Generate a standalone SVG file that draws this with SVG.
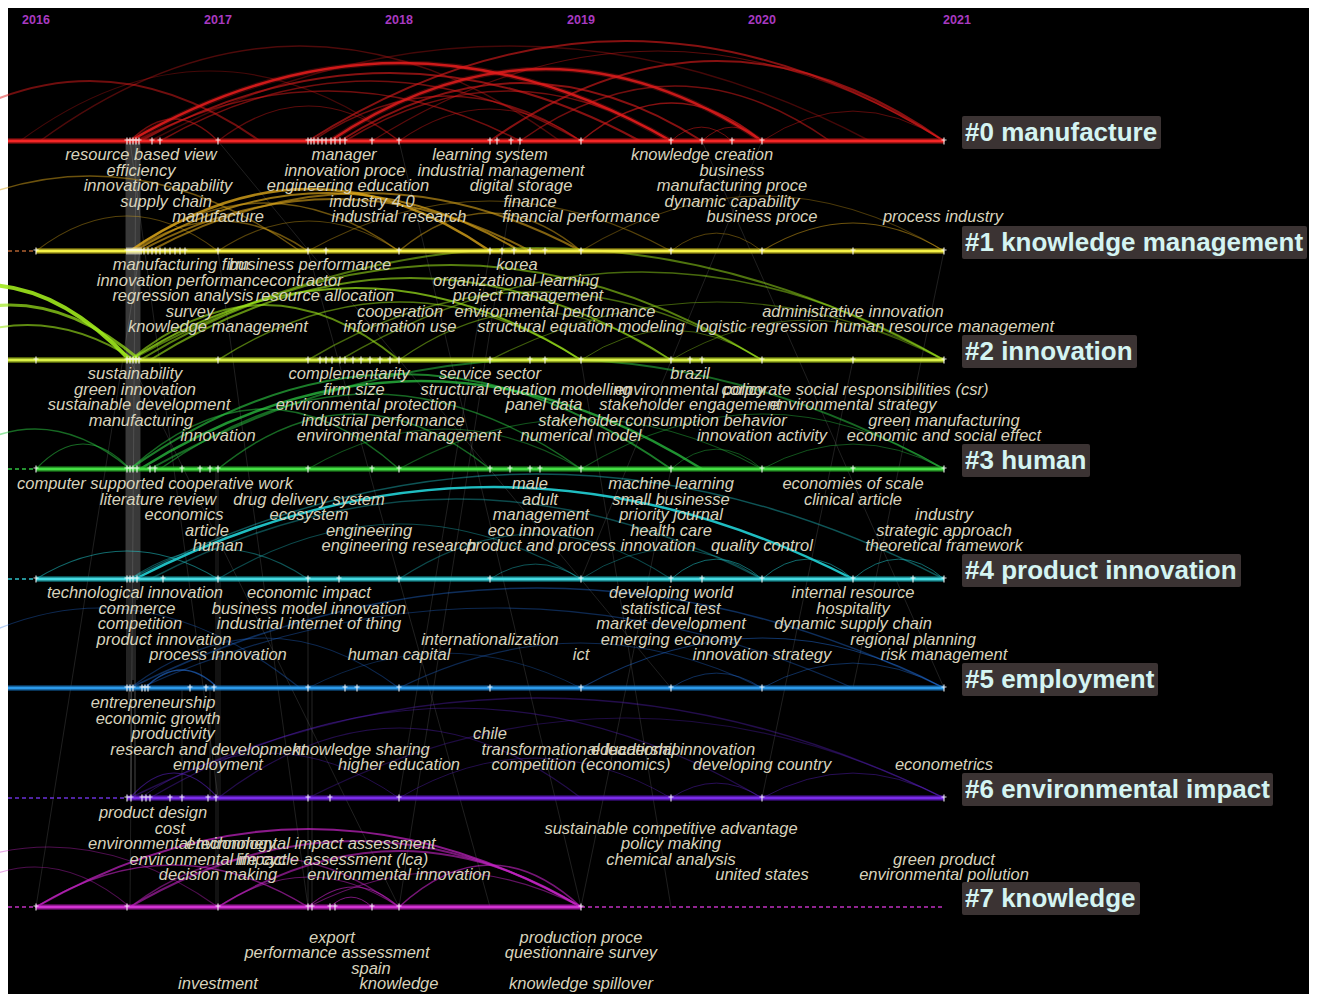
<svg xmlns="http://www.w3.org/2000/svg" xmlns:xlink="http://www.w3.org/1999/xlink" width="1317" height="994" viewBox="0 0 1317 994">
<style>
.yr{font-family:"Liberation Sans",Arial,sans-serif;font-weight:bold;font-size:12.5px;fill:#a83ac0;text-anchor:middle}
.kw{font-family:"Liberation Sans",Arial,sans-serif;font-style:italic;font-size:16.5px;fill:#d8d3bc;text-anchor:middle}
.lb{font-family:"Liberation Sans",Arial,sans-serif;font-weight:bold;font-size:26px;fill:#d4f4f2}
.box{fill:#3b3333}
.arc{fill:none;stroke-linecap:round}
.a0{stroke:#e01c1c}.a1{stroke:#d8a41a}.a2{stroke:#9ee81c}.a3{stroke:#2ed046}.a4{stroke:#22d2d6}.a5{stroke:#2474e4}.a6{stroke:#6424d8}.a7{stroke:#c424c4}
.gl{stroke:#ffffff;fill:none;stroke-width:1}
.tk{stroke:#ffffff;stroke-width:1.2;fill:none;opacity:.85}
.dash{stroke-dasharray:4 3;stroke-width:1.3;fill:none}
</style>
<defs>
<path id="tk" d="M0 -3.5V3.5M-2.5 -1H2.5" class="tk"/>
</defs>
<rect x="0" y="0" width="1317" height="994" fill="#ffffff"/>
<rect x="8" y="8" width="1301" height="986" fill="#000000"/>
<g id="years">
<text class="yr" x="36" y="24">2016</text>
<text class="yr" x="218" y="24">2017</text>
<text class="yr" x="399" y="24">2018</text>
<text class="yr" x="581" y="24">2019</text>
<text class="yr" x="762" y="24">2020</text>
<text class="yr" x="957" y="24">2021</text>
</g>
<g id="connectors">
<g id="crosslinks">
<rect x="125" y="141" width="16" height="440" fill="#ffffff" opacity="0.10"/>
<path class="gl" opacity="0.28" d="M127 141V690M129 141V700M131 141V798M133 141V680M135 141V800M137 141V600M139 141V590"/>
<path class="gl" opacity="0.14" d="M216 469V907M218 469V907M220 580V800M308 579V907M312 688V907M210 690V800M182 690V800"/>
<path class="gl" opacity="0.12" d="M130 141L218 798M136 141L130 907M218 251L308 907M399 141L581 907M581 360L671 907M702 141L944 688M490 251L399 798M762 141L581 579M140 251L36 907M520 141L399 907M308 251L490 907M671 469L581 907M853 360L762 798M944 251L853 688M130 360L399 907M218 141L671 688"/>
</g>
<g id="arcs0" class="arc a0">
<path stroke-width="2" opacity="0.5" d="M-80 141Q90 21 260 141"/>
<path stroke-width="5" opacity="0.25" d="M130 141Q400.5 -15 671 141"/>
<path stroke-width="2.5" opacity="0.9" d="M130 141Q400.5 -15 671 141"/>
<path stroke-width="2" opacity="0.6" d="M140 141Q390 5 640 141"/>
<path stroke-width="1.5" opacity="0.5" d="M136 141Q328 41 520 141"/>
<path stroke-width="2" opacity="0.6" d="M308 141Q626 -59 944 141"/>
<path stroke-width="5" opacity="0.25" d="M330 141Q546 -3 762 141"/>
<path stroke-width="2.5" opacity="0.85" d="M330 141Q546 -3 762 141"/>
<path stroke-width="2" opacity="0.6" d="M340 141Q521 25 702 141"/>
<path stroke-width="1.5" opacity="0.5" d="M312 141Q446.5 51 581 141"/>
<path stroke-width="2" opacity="0.6" d="M490 141Q717 -19 944 141"/>
<path stroke-width="1.5" opacity="0.5" d="M520 141Q675 31 830 141"/>
<path stroke-width="1.5" opacity="0.6" d="M581 141Q671.5 65 762 141"/>
<path stroke-width="1.2" opacity="0.5" d="M130 141Q174 97 218 141"/>
<path stroke-width="1.2" opacity="0.4" d="M218 141Q308.5 71 399 141"/>
<path stroke-width="1.2" opacity="0.4" d="M399 141Q490 77 581 141"/>
<path stroke-width="1" opacity="0.5" d="M671 141Q701.5 113 732 141"/>
<path stroke-width="1" opacity="0.5" d="M702 141Q732 113 762 141"/>
<path stroke-width="1" opacity="0.4" d="M762 141Q853 81 944 141"/>
<path stroke-width="1.5" opacity="0.35" d="M40 141Q300 -49 560 141"/>
<path stroke-width="1.5" opacity="0.3" d="M150 141Q510 -49 870 141"/>
<path stroke-width="1.5" opacity="0.5" d="M160 141Q370.5 21 581 141"/>
<path stroke-width="1.5" opacity="0.5" d="M345 141Q508 41 671 141"/>
<path stroke-width="1.2" opacity="0.4" d="M372 141Q658 -39 944 141"/>
<path stroke-width="1.2" opacity="0.3" d="M20 141Q210 1 400 141"/>
</g>
<g id="arcs1" class="arc a1">
<path stroke-width="1.5" opacity="0.5" d="M-120 251Q90 101 300 251"/>
<path stroke-width="2.5" opacity="0.8" d="M130 251Q310 127 490 251"/>
<path stroke-width="2" opacity="0.7" d="M135 251Q327.5 135 520 251"/>
<path stroke-width="2" opacity="0.6" d="M140 251Q335 147 530 251"/>
<path stroke-width="2" opacity="0.6" d="M150 251Q365.5 135 581 251"/>
<path stroke-width="1.5" opacity="0.5" d="M130 251Q264.5 155 399 251"/>
<path stroke-width="1.5" opacity="0.5" d="M133 251Q220.5 191 308 251"/>
<path stroke-width="1.2" opacity="0.4" d="M218 251Q308.5 191 399 251"/>
<path stroke-width="1.5" opacity="0.5" d="M399 251Q490 175 581 251"/>
<path stroke-width="1.2" opacity="0.4" d="M308 251Q489.5 151 671 251"/>
<path stroke-width="1.2" opacity="0.35" d="M581 251Q762.5 141 944 251"/>
<path stroke-width="1" opacity="0.4" d="M671 251Q716.5 215 762 251"/>
<path stroke-width="1.2" opacity="0.5" d="M762 251Q853 195 944 251"/>
<path stroke-width="1.2" opacity="0.4" d="M36 251Q127 181 218 251"/>
</g>
<g id="arcs2" class="arc a2">
<path stroke-width="4" opacity="0.9" d="M-160 360Q-15 210 130 360"/>
<path stroke-width="3" opacity="0.7" d="M-120 360Q10 250 140 360"/>
<path stroke-width="2" opacity="0.6" d="M-80 360Q27.5 290 135 360"/>
<path stroke-width="2" opacity="0.5" d="M130 360Q537 136 944 360"/>
<path stroke-width="2" opacity="0.55" d="M140 360Q451 170 762 360"/>
<path stroke-width="2" opacity="0.6" d="M150 360Q410.5 196 671 360"/>
<path stroke-width="2" opacity="0.7" d="M130 360Q355.5 216 581 360"/>
<path stroke-width="1.5" opacity="0.5" d="M218 360Q399.5 244 581 360"/>
<path stroke-width="1.5" opacity="0.45" d="M308 360Q535 224 762 360"/>
<path stroke-width="1.5" opacity="0.45" d="M340 360Q642 184 944 360"/>
<path stroke-width="1.2" opacity="0.45" d="M399 360Q535 264 671 360"/>
<path stroke-width="1.2" opacity="0.4" d="M490 360Q717 244 944 360"/>
<path stroke-width="1" opacity="0.4" d="M581 360Q671.5 300 762 360"/>
<path stroke-width="2" opacity="0.6" d="M130 360Q264.5 250 399 360"/>
<path stroke-width="1" opacity="0.35" d="M671 360Q807.5 280 944 360"/>
</g>
<g id="arcs3" class="arc a3">
<path stroke-width="2" opacity="0.6" d="M130 469Q400.5 279 671 469"/>
<path stroke-width="2.5" opacity="0.7" d="M140 469Q421 293 702 469"/>
<path stroke-width="2" opacity="0.5" d="M150 469Q547 249 944 469"/>
<path stroke-width="1.5" opacity="0.5" d="M160 469Q370.5 319 581 469"/>
<path stroke-width="1.5" opacity="0.5" d="M218 469Q354 359 490 469"/>
<path stroke-width="1.5" opacity="0.5" d="M130 469Q264.5 349 399 469"/>
<path stroke-width="1.2" opacity="0.4" d="M308 469Q444.5 389 581 469"/>
<path stroke-width="1.5" opacity="0.5" d="M-60 469Q35 389 130 469"/>
<path stroke-width="1.2" opacity="0.4" d="M581 469Q762.5 359 944 469"/>
<path stroke-width="1.2" opacity="0.4" d="M399 469Q580.5 369 762 469"/>
<path stroke-width="1" opacity="0.4" d="M671 469Q716.5 429 762 469"/>
<path stroke-width="1" opacity="0.4" d="M762 469Q853 419 944 469"/>
<path stroke-width="1.2" opacity="0.5" d="M36 469Q83 419 130 469"/>
</g>
<g id="arcs4" class="arc a4">
<path stroke-width="2.5" opacity="0.9" d="M135 579Q494 395 853 579"/>
<path stroke-width="1.5" opacity="0.4" d="M130 579Q537 369 944 579"/>
<path stroke-width="1.5" opacity="0.35" d="M150 579Q456 419 762 579"/>
<path stroke-width="1.2" opacity="0.35" d="M218 579Q399.5 469 581 579"/>
<path stroke-width="1.2" opacity="0.35" d="M399 579Q535 489 671 579"/>
<path stroke-width="1" opacity="0.35" d="M581 579Q671.5 519 762 579"/>
<path stroke-width="1" opacity="0.5" d="M671 579Q716.5 539 762 579"/>
<path stroke-width="1" opacity="0.5" d="M762 579Q807.5 539 853 579"/>
<path stroke-width="1" opacity="0.5" d="M853 579Q898.5 539 944 579"/>
<path stroke-width="1" opacity="0.4" d="M490 579Q535.5 549 581 579"/>
<path stroke-width="1.2" opacity="0.5" d="M36 579Q127 523 218 579"/>
<path stroke-width="1.2" opacity="0.4" d="M130 579Q219 519 308 579"/>
</g>
<g id="arcs5" class="arc a5">
<path stroke-width="1.5" opacity="0.4" d="M130 688Q537 488 944 688"/>
<path stroke-width="1.2" opacity="0.35" d="M140 688Q496.5 528 853 688"/>
<path stroke-width="1.5" opacity="0.6" d="M145 688Q181.5 652 218 688"/>
<path stroke-width="1.2" opacity="0.35" d="M130 688Q264.5 588 399 688"/>
<path stroke-width="1.2" opacity="0.35" d="M-100 688Q100 528 300 688"/>
<path stroke-width="1.2" opacity="0.35" d="M399 688Q580.5 598 762 688"/>
<path stroke-width="1.2" opacity="0.45" d="M581 688Q762.5 588 944 688"/>
<path stroke-width="1" opacity="0.4" d="M671 688Q716.5 658 762 688"/>
<path stroke-width="1" opacity="0.4" d="M762 688Q853 638 944 688"/>
<path stroke-width="1" opacity="0.3" d="M308 688Q444.5 618 581 688"/>
</g>
<g id="arcs6" class="arc a6">
<path stroke-width="1.5" opacity="0.35" d="M130 798Q537 598 944 798"/>
<path stroke-width="1.2" opacity="0.35" d="M150 798Q456 618 762 798"/>
<path stroke-width="1.2" opacity="0.35" d="M218 798Q399.5 658 581 798"/>
<path stroke-width="1.2" opacity="0.3" d="M308 798Q626 638 944 798"/>
<path stroke-width="1" opacity="0.35" d="M399 798Q535 718 671 798"/>
<path stroke-width="1" opacity="0.4" d="M671 798Q716.5 768 762 798"/>
<path stroke-width="1" opacity="0.4" d="M762 798Q853 748 944 798"/>
<path stroke-width="1.2" opacity="0.5" d="M130 798Q174 748 218 798"/>
<path stroke-width="1" opacity="0.35" d="M140 798Q269.5 708 399 798"/>
</g>
<g id="arcs7" class="arc a7">
<path stroke-width="2" opacity="0.7" d="M36 907Q308.5 751 581 907"/>
<path stroke-width="2" opacity="0.6" d="M130 907Q355.5 775 581 907"/>
<path stroke-width="1.5" opacity="0.6" d="M36 907Q172 823 308 907"/>
<path stroke-width="1.5" opacity="0.5" d="M130 907Q264.5 807 399 907"/>
<path stroke-width="2" opacity="0.6" d="M218 907Q399.5 795 581 907"/>
<path stroke-width="1.2" opacity="0.5" d="M218 907Q308.5 847 399 907"/>
<path stroke-width="1.2" opacity="0.6" d="M308 907Q353.5 867 399 907"/>
<path stroke-width="1" opacity="0.6" d="M330 907Q351 887 372 907"/>
<path stroke-width="1.5" opacity="0.6" d="M399 907Q490 823 581 907"/>
<path stroke-width="1.2" opacity="0.4" d="M-120 907Q49 787 218 907"/>
<path stroke-width="1.2" opacity="0.5" d="M308 907Q444.5 837 581 907"/>
<path stroke-width="1.2" opacity="0.4" d="M-60 907Q35 827 130 907"/>
</g>
</g>

<g id="cluster0">
<path d="M8 141H944" stroke="#b01010" stroke-width="6" opacity="0.5"/>
<path d="M8 141H944" stroke="#f42626" stroke-width="3"/>
<g>
<use href="#tk" x="127" y="141"/><use href="#tk" x="130" y="141"/><use href="#tk" x="133" y="141"/><use href="#tk" x="136" y="141"/><use href="#tk" x="139" y="141"/><use href="#tk" x="152" y="141"/><use href="#tk" x="160" y="141"/><use href="#tk" x="218" y="141"/><use href="#tk" x="308" y="141"/><use href="#tk" x="311" y="141"/><use href="#tk" x="314" y="141"/><use href="#tk" x="318" y="141"/><use href="#tk" x="322" y="141"/><use href="#tk" x="326" y="141"/><use href="#tk" x="331" y="141"/><use href="#tk" x="335" y="141"/><use href="#tk" x="340" y="141"/><use href="#tk" x="345" y="141"/><use href="#tk" x="372" y="141"/><use href="#tk" x="399" y="141"/><use href="#tk" x="490" y="141"/><use href="#tk" x="497" y="141"/><use href="#tk" x="511" y="141"/><use href="#tk" x="520" y="141"/><use href="#tk" x="581" y="141"/><use href="#tk" x="671" y="141"/><use href="#tk" x="702" y="141"/><use href="#tk" x="732" y="141"/><use href="#tk" x="762" y="141"/><use href="#tk" x="944" y="141"/>
</g>
<rect class="box" x="962" y="116" width="199" height="33" rx="2"/>
<text class="lb" x="965" y="141">#0 manufacture</text>
<text class="kw" x="141" y="160">resource based view</text>
<text class="kw" x="344" y="160">manager</text>
<text class="kw" x="490" y="160">learning system</text>
<text class="kw" x="702" y="160">knowledge creation</text>
<text class="kw" x="141" y="175.5">efficiency</text>
<text class="kw" x="345" y="175.5">innovation proce</text>
<text class="kw" x="501" y="175.5">industrial management</text>
<text class="kw" x="732" y="175.5">business</text>
<text class="kw" x="158" y="191">innovation capability</text>
<text class="kw" x="348" y="191">engineering education</text>
<text class="kw" x="521" y="191">digital storage</text>
<text class="kw" x="732" y="191">manufacturing proce</text>
<text class="kw" x="166" y="206.5">supply chain</text>
<text class="kw" x="372" y="206.5">industry 4.0</text>
<text class="kw" x="530" y="206.5">finance</text>
<text class="kw" x="732" y="206.5">dynamic capability</text>
<text class="kw" x="218" y="222">manufacture</text>
<text class="kw" x="399" y="222">industrial research</text>
<text class="kw" x="581" y="222">financial performance</text>
<text class="kw" x="762" y="222">business proce</text>
<text class="kw" x="943" y="222">process industry</text>
</g>

<g id="cluster1">
<path d="M8 251H36" class="dash" stroke="#b06030"/>
<path d="M36 251H944" stroke="#c0b010" stroke-width="6" opacity="0.5"/>
<path d="M36 251H944" stroke="#f4f046" stroke-width="3"/>
<g>
<use href="#tk" x="36" y="251"/><use href="#tk" x="127" y="251"/><use href="#tk" x="129" y="251"/><use href="#tk" x="131" y="251"/><use href="#tk" x="133" y="251"/><use href="#tk" x="135" y="251"/><use href="#tk" x="137" y="251"/><use href="#tk" x="139" y="251"/><use href="#tk" x="141" y="251"/><use href="#tk" x="144" y="251"/><use href="#tk" x="148" y="251"/><use href="#tk" x="152" y="251"/><use href="#tk" x="156" y="251"/><use href="#tk" x="160" y="251"/><use href="#tk" x="165" y="251"/><use href="#tk" x="170" y="251"/><use href="#tk" x="175" y="251"/><use href="#tk" x="180" y="251"/><use href="#tk" x="185" y="251"/><use href="#tk" x="218" y="251"/><use href="#tk" x="308" y="251"/><use href="#tk" x="326" y="251"/><use href="#tk" x="399" y="251"/><use href="#tk" x="490" y="251"/><use href="#tk" x="502" y="251"/><use href="#tk" x="514" y="251"/><use href="#tk" x="530" y="251"/><use href="#tk" x="545" y="251"/><use href="#tk" x="581" y="251"/><use href="#tk" x="671" y="251"/><use href="#tk" x="762" y="251"/><use href="#tk" x="853" y="251"/><use href="#tk" x="944" y="251"/>
</g>
<rect class="box" x="962" y="226" width="345" height="33" rx="2"/>
<text class="lb" x="965" y="251">#1 knowledge management</text>
<text class="kw" x="181" y="270">manufacturing firm</text>
<text class="kw" x="310" y="270">business performance</text>
<text class="kw" x="517" y="270">korea</text>
<text class="kw" x="183" y="285.5">innovation performance</text>
<text class="kw" x="306" y="285.5">contractor</text>
<text class="kw" x="516" y="285.5">organizational learning</text>
<text class="kw" x="183" y="301">regression analysis</text>
<text class="kw" x="325" y="301">resource allocation</text>
<text class="kw" x="528" y="301">project management</text>
<text class="kw" x="190" y="316.5">survey</text>
<text class="kw" x="400" y="316.5">cooperation</text>
<text class="kw" x="555" y="316.5">environmental performance</text>
<text class="kw" x="853" y="316.5">administrative innovation</text>
<text class="kw" x="218" y="332">knowledge management</text>
<text class="kw" x="400" y="332">information use</text>
<text class="kw" x="581" y="332">structural equation modeling</text>
<text class="kw" x="762" y="332">logistic regression</text>
<text class="kw" x="944" y="332">human resource management</text>
</g>

<g id="cluster2">
<path d="M8 360H944" stroke="#a0c010" stroke-width="6" opacity="0.5"/>
<path d="M8 360H944" stroke="#daf046" stroke-width="3"/>
<g>
<use href="#tk" x="36" y="360"/><use href="#tk" x="127" y="360"/><use href="#tk" x="130" y="360"/><use href="#tk" x="133" y="360"/><use href="#tk" x="136" y="360"/><use href="#tk" x="139" y="360"/><use href="#tk" x="218" y="360"/><use href="#tk" x="308" y="360"/><use href="#tk" x="320" y="360"/><use href="#tk" x="326" y="360"/><use href="#tk" x="332" y="360"/><use href="#tk" x="340" y="360"/><use href="#tk" x="345" y="360"/><use href="#tk" x="353" y="360"/><use href="#tk" x="361" y="360"/><use href="#tk" x="370" y="360"/><use href="#tk" x="380" y="360"/><use href="#tk" x="390" y="360"/><use href="#tk" x="399" y="360"/><use href="#tk" x="490" y="360"/><use href="#tk" x="530" y="360"/><use href="#tk" x="545" y="360"/><use href="#tk" x="581" y="360"/><use href="#tk" x="671" y="360"/><use href="#tk" x="690" y="360"/><use href="#tk" x="702" y="360"/><use href="#tk" x="762" y="360"/><use href="#tk" x="853" y="360"/><use href="#tk" x="944" y="360"/>
</g>
<rect class="box" x="962" y="335" width="175" height="33" rx="2"/>
<text class="lb" x="965" y="360">#2 innovation</text>
<text class="kw" x="135" y="379">sustainability</text>
<text class="kw" x="349" y="379">complementarity</text>
<text class="kw" x="490" y="379">service sector</text>
<text class="kw" x="690" y="379">brazil</text>
<text class="kw" x="135" y="394.5">green innovation</text>
<text class="kw" x="354" y="394.5">firm size</text>
<text class="kw" x="526" y="394.5">structural equation modelling</text>
<text class="kw" x="690" y="394.5">environmental policy</text>
<text class="kw" x="855" y="394.5">corporate social responsibilities (csr)</text>
<text class="kw" x="139" y="410">sustainable development</text>
<text class="kw" x="366" y="410">environmental protection</text>
<text class="kw" x="544" y="410">panel data</text>
<text class="kw" x="690" y="410">stakeholder engagement</text>
<text class="kw" x="853" y="410">environmental strategy</text>
<text class="kw" x="141" y="425.5">manufacturing</text>
<text class="kw" x="383" y="425.5">industrial performance</text>
<text class="kw" x="581" y="425.5">stakeholder</text>
<text class="kw" x="706" y="425.5">consumption behavior</text>
<text class="kw" x="944" y="425.5">green manufacturing</text>
<text class="kw" x="218" y="441">innovation</text>
<text class="kw" x="399" y="441">environmental management</text>
<text class="kw" x="581" y="441">numerical model</text>
<text class="kw" x="762" y="441">innovation activity</text>
<text class="kw" x="944" y="441">economic and social effect</text>
</g>

<g id="cluster3">
<path d="M8 469H36" class="dash" stroke="#30c040"/>
<path d="M36 469H944" stroke="#20a020" stroke-width="6" opacity="0.5"/>
<path d="M36 469H944" stroke="#44e044" stroke-width="3"/>
<g>
<use href="#tk" x="36" y="469"/><use href="#tk" x="127" y="469"/><use href="#tk" x="130" y="469"/><use href="#tk" x="133" y="469"/><use href="#tk" x="137" y="469"/><use href="#tk" x="150" y="469"/><use href="#tk" x="155" y="469"/><use href="#tk" x="182" y="469"/><use href="#tk" x="200" y="469"/><use href="#tk" x="210" y="469"/><use href="#tk" x="218" y="469"/><use href="#tk" x="308" y="469"/><use href="#tk" x="372" y="469"/><use href="#tk" x="399" y="469"/><use href="#tk" x="490" y="469"/><use href="#tk" x="510" y="469"/><use href="#tk" x="530" y="469"/><use href="#tk" x="540" y="469"/><use href="#tk" x="581" y="469"/><use href="#tk" x="671" y="469"/><use href="#tk" x="762" y="469"/><use href="#tk" x="853" y="469"/><use href="#tk" x="944" y="469"/>
</g>
<rect class="box" x="962" y="444" width="128" height="33" rx="2"/>
<text class="lb" x="965" y="469">#3 human</text>
<text class="kw" x="155" y="489">computer supported cooperative work</text>
<text class="kw" x="530" y="489">male</text>
<text class="kw" x="671" y="489">machine learning</text>
<text class="kw" x="853" y="489">economies of scale</text>
<text class="kw" x="158" y="504.5">literature review</text>
<text class="kw" x="309" y="504.5">drug delivery system</text>
<text class="kw" x="540" y="504.5">adult</text>
<text class="kw" x="671" y="504.5">small businesse</text>
<text class="kw" x="853" y="504.5">clinical article</text>
<text class="kw" x="184" y="520">economics</text>
<text class="kw" x="309" y="520">ecosystem</text>
<text class="kw" x="541" y="520">management</text>
<text class="kw" x="671" y="520">priority journal</text>
<text class="kw" x="944" y="520">industry</text>
<text class="kw" x="207" y="535.5">article</text>
<text class="kw" x="369" y="535.5">engineering</text>
<text class="kw" x="541" y="535.5">eco innovation</text>
<text class="kw" x="671" y="535.5">health care</text>
<text class="kw" x="944" y="535.5">strategic approach</text>
<text class="kw" x="218" y="551">human</text>
<text class="kw" x="399" y="551">engineering research</text>
<text class="kw" x="581" y="551">product and process innovation</text>
<text class="kw" x="762" y="551">quality control</text>
<text class="kw" x="944" y="551">theoretical framework</text>
</g>

<g id="cluster4">
<path d="M8 579H36" class="dash" stroke="#30c0c8"/>
<path d="M36 579H944" stroke="#10a0a8" stroke-width="6" opacity="0.5"/>
<path d="M36 579H944" stroke="#44dae2" stroke-width="3"/>
<g>
<use href="#tk" x="36" y="579"/><use href="#tk" x="127" y="579"/><use href="#tk" x="130" y="579"/><use href="#tk" x="133" y="579"/><use href="#tk" x="137" y="579"/><use href="#tk" x="163" y="579"/><use href="#tk" x="218" y="579"/><use href="#tk" x="308" y="579"/><use href="#tk" x="339" y="579"/><use href="#tk" x="399" y="579"/><use href="#tk" x="490" y="579"/><use href="#tk" x="581" y="579"/><use href="#tk" x="671" y="579"/><use href="#tk" x="702" y="579"/><use href="#tk" x="762" y="579"/><use href="#tk" x="853" y="579"/><use href="#tk" x="913" y="579"/><use href="#tk" x="944" y="579"/>
</g>
<rect class="box" x="962" y="554" width="279" height="33" rx="2"/>
<text class="lb" x="965" y="579">#4 product innovation</text>
<text class="kw" x="135" y="598">technological innovation</text>
<text class="kw" x="309" y="598">economic impact</text>
<text class="kw" x="671" y="598">developing world</text>
<text class="kw" x="853" y="598">internal resource</text>
<text class="kw" x="137" y="613.5">commerce</text>
<text class="kw" x="309" y="613.5">business model innovation</text>
<text class="kw" x="671" y="613.5">statistical test</text>
<text class="kw" x="853" y="613.5">hospitality</text>
<text class="kw" x="140" y="629">competition</text>
<text class="kw" x="309" y="629">industrial internet of thing</text>
<text class="kw" x="671" y="629">market development</text>
<text class="kw" x="853" y="629">dynamic supply chain</text>
<text class="kw" x="164" y="644.5">product innovation</text>
<text class="kw" x="490" y="644.5">internationalization</text>
<text class="kw" x="671" y="644.5">emerging economy</text>
<text class="kw" x="913" y="644.5">regional planning</text>
<text class="kw" x="218" y="660">process innovation</text>
<text class="kw" x="399" y="660">human capital</text>
<text class="kw" x="581" y="660">ict</text>
<text class="kw" x="762" y="660">innovation strategy</text>
<text class="kw" x="944" y="660">risk management</text>
</g>

<g id="cluster5">
<path d="M8 688H944" stroke="#1068b0" stroke-width="6" opacity="0.5"/>
<path d="M8 688H944" stroke="#2c9aea" stroke-width="3"/>
<g>
<use href="#tk" x="127" y="688"/><use href="#tk" x="130" y="688"/><use href="#tk" x="133" y="688"/><use href="#tk" x="142" y="688"/><use href="#tk" x="145" y="688"/><use href="#tk" x="148" y="688"/><use href="#tk" x="190" y="688"/><use href="#tk" x="206" y="688"/><use href="#tk" x="214" y="688"/><use href="#tk" x="308" y="688"/><use href="#tk" x="345" y="688"/><use href="#tk" x="357" y="688"/><use href="#tk" x="399" y="688"/><use href="#tk" x="490" y="688"/><use href="#tk" x="581" y="688"/><use href="#tk" x="671" y="688"/><use href="#tk" x="762" y="688"/><use href="#tk" x="944" y="688"/>
</g>
<rect class="box" x="962" y="663" width="196" height="33" rx="2"/>
<text class="lb" x="965" y="688">#5 employment</text>
<text class="kw" x="153" y="708">entrepreneurship</text>
<text class="kw" x="158" y="723.5">economic growth</text>
<text class="kw" x="173" y="739">productivity</text>
<text class="kw" x="490" y="739">chile</text>
<text class="kw" x="208" y="754.5">research and development</text>
<text class="kw" x="361" y="754.5">knowledge sharing</text>
<text class="kw" x="581" y="754.5">transformational leadership</text>
<text class="kw" x="673" y="754.5">educational innovation</text>
<text class="kw" x="218" y="770">employment</text>
<text class="kw" x="399" y="770">higher education</text>
<text class="kw" x="581" y="770">competition (economics)</text>
<text class="kw" x="762" y="770">developing country</text>
<text class="kw" x="944" y="770">econometrics</text>
</g>

<g id="cluster6">
<path d="M8 798H127" class="dash" stroke="#6a30d8"/>
<path d="M127 798H944" stroke="#5010b0" stroke-width="6" opacity="0.5"/>
<path d="M127 798H944" stroke="#7a2cea" stroke-width="3"/>
<g>
<use href="#tk" x="127" y="798"/><use href="#tk" x="131" y="798"/><use href="#tk" x="142" y="798"/><use href="#tk" x="146" y="798"/><use href="#tk" x="150" y="798"/><use href="#tk" x="170" y="798"/><use href="#tk" x="182" y="798"/><use href="#tk" x="208" y="798"/><use href="#tk" x="216" y="798"/><use href="#tk" x="308" y="798"/><use href="#tk" x="330" y="798"/><use href="#tk" x="399" y="798"/><use href="#tk" x="671" y="798"/><use href="#tk" x="762" y="798"/><use href="#tk" x="944" y="798"/>
</g>
<rect class="box" x="962" y="773" width="311" height="33" rx="2"/>
<text class="lb" x="965" y="798">#6 environmental impact</text>
<text class="kw" x="153" y="818">product design</text>
<text class="kw" x="170" y="833.5">cost</text>
<text class="kw" x="671" y="833.5">sustainable competitive advantage</text>
<text class="kw" x="182" y="849">environmental technology</text>
<text class="kw" x="311" y="849">environmental impact assessment</text>
<text class="kw" x="671" y="849">policy making</text>
<text class="kw" x="208" y="864.5">environmental impact</text>
<text class="kw" x="332" y="864.5">life cycle assessment (lca)</text>
<text class="kw" x="671" y="864.5">chemical analysis</text>
<text class="kw" x="944" y="864.5">green product</text>
<text class="kw" x="218" y="880">decision making</text>
<text class="kw" x="399" y="880">environmental innovation</text>
<text class="kw" x="762" y="880">united states</text>
<text class="kw" x="944" y="880">environmental pollution</text>
</g>

<g id="cluster7">
<path d="M8 907H36M581 907H944" class="dash" stroke="#c030c0"/>
<path d="M36 907H581" stroke="#a010a0" stroke-width="6" opacity="0.5"/>
<path d="M36 907H581" stroke="#d432d4" stroke-width="3"/>
<g>
<use href="#tk" x="36" y="907"/><use href="#tk" x="127" y="907"/><use href="#tk" x="218" y="907"/><use href="#tk" x="308" y="907"/><use href="#tk" x="312" y="907"/><use href="#tk" x="330" y="907"/><use href="#tk" x="335" y="907"/><use href="#tk" x="372" y="907"/><use href="#tk" x="399" y="907"/><use href="#tk" x="581" y="907"/>
</g>
<rect class="box" x="962" y="882" width="178" height="33" rx="2"/>
<text class="lb" x="965" y="907">#7 knowledge</text>
<text class="kw" x="332" y="942.5">export</text>
<text class="kw" x="581" y="942.5">production proce</text>
<text class="kw" x="337" y="958">performance assessment</text>
<text class="kw" x="581" y="958">questionnaire survey</text>
<text class="kw" x="371" y="973.5">spain</text>
<text class="kw" x="218" y="989">investment</text>
<text class="kw" x="399" y="989">knowledge</text>
<text class="kw" x="581" y="989">knowledge spillover</text>
</g>
</svg>
